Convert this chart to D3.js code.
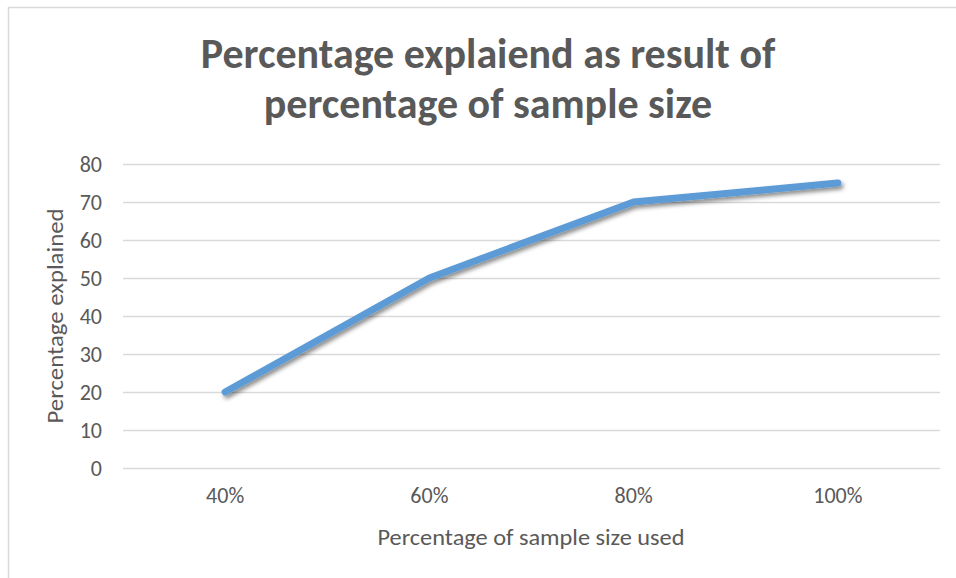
<!DOCTYPE html>
<html>
<head>
<meta charset="utf-8">
<script src="https://cdn.jsdelivr.net/npm/d3@7"></script>
<style>
  html, body { margin: 0; padding: 0; background: #fff; }
  svg { display: block; }
  .lbl { font-family: Carlito, Calibri, "Liberation Sans Narrow", "Open Sans", sans-serif; fill: #595959; }
</style>
</head>
<body>
<svg id="chart" width="956" height="578"></svg>
<script>
// Chart data
const categories = ["40%", "60%", "80%", "100%"];
const explained = [20, 50, 70, 75];
const yTicks = [0, 10, 20, 30, 40, 50, 60, 70, 80];
const titleLines = ["Percentage explaiend as result of", "percentage of sample size"];
const xTitle = "Percentage of sample size used";
const yTitle = "Percentage explained";

const W = 956, H = 578;
const plot = { left: 123, right: 940, top: 164, bottom: 468 };

const svg = d3.select("#chart");

// Chart area frame (top and left edges)
svg.append("path")
  .attr("d", `M8.5,${H} V7.5 H${W}`)
  .attr("fill", "none")
  .attr("stroke", "#d9d9d9")
  .attr("stroke-width", 1.5);

// Line shadow
const defs = svg.append("defs");
const f = defs.append("filter").attr("id", "shadow")
  .attr("x", "-10%").attr("y", "-10%").attr("width", "120%").attr("height", "130%");
f.append("feDropShadow")
  .attr("dx", 2).attr("dy", 3).attr("stdDeviation", 2)
  .attr("flood-color", "#000").attr("flood-opacity", 0.45);

const x = d3.scaleBand().domain(categories).range([plot.left, plot.right]);
const y = d3.scaleLinear().domain([0, 80]).range([plot.bottom, plot.top]);

// Horizontal gridlines + y tick labels
const yAxis = d3.axisLeft(y).tickValues(yTicks)
  .tickSize(-(plot.right - plot.left)).tickPadding(21);
const gy = svg.append("g").attr("transform", `translate(${plot.left},0)`).call(yAxis);
gy.select(".domain").remove();
gy.selectAll(".tick line").attr("stroke", "#d9d9d9").attr("stroke-width", 1.4);
gy.selectAll(".tick text").attr("class", "lbl").style("font-size", "22px");

// X tick labels
const xAxis = d3.axisBottom(x).tickSize(0).tickPadding(19);
const gx = svg.append("g").attr("transform", `translate(0,${plot.bottom})`).call(xAxis);
gx.select(".domain").remove();
gx.selectAll(".tick text").attr("class", "lbl").style("font-size", "22px");

// Data line
const line = d3.line()
  .x((d, i) => x(categories[i]) + x.bandwidth() / 2)
  .y(d => y(d));
svg.append("path")
  .datum(explained)
  .attr("d", line)
  .attr("fill", "none")
  .attr("stroke", "#5b9bd5")
  .attr("stroke-width", 7)
  .attr("stroke-linecap", "round")
  .attr("stroke-linejoin", "round")
  .attr("filter", "url(#shadow)");

// Title
svg.append("text").attr("class", "lbl")
  .attr("text-anchor", "middle")
  .style("font-size", "42px").style("font-weight", "bold")
  .selectAll("tspan").data(titleLines).join("tspan")
  .attr("x", 488).attr("y", (d, i) => 68 + i * 50)
  .text(d => d);

// Axis titles
svg.append("text").attr("class", "lbl")
  .attr("x", 531).attr("y", 545)
  .attr("text-anchor", "middle")
  .attr("textLength", 307).attr("lengthAdjust", "spacingAndGlyphs")
  .style("font-size", "22px")
  .text(xTitle);

svg.append("text").attr("class", "lbl")
  .attr("transform", "translate(63,316) rotate(-90)")
  .attr("text-anchor", "middle")
  .attr("textLength", 215).attr("lengthAdjust", "spacingAndGlyphs")
  .style("font-size", "22px")
  .text(yTitle);
</script>
</body>
</html>
